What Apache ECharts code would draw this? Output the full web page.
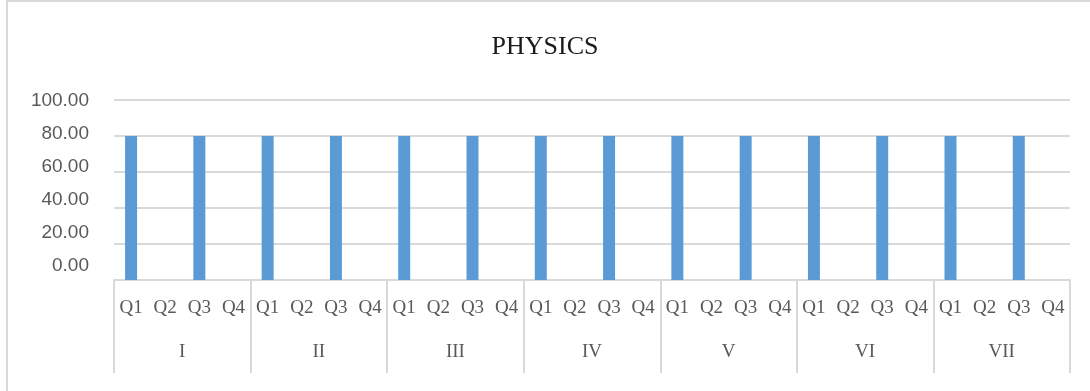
<!DOCTYPE html>
<html>
<head>
<meta charset="utf-8">
<script src="https://cdn.jsdelivr.net/npm/echarts@6/dist/echarts.min.js"></script>
<style>
  html, body { margin: 0; padding: 0; background: #fff; }
  #wrap { position: relative; width: 1090px; height: 391px; overflow: hidden; }
  #frame { position: absolute; left: 6px; top: 0; width: 1200px; height: 500px;
           border-left: 2px solid #d9d9d9; border-top: 2px solid #d9d9d9; box-sizing: border-box; }
  #chart { position: absolute; left: 0; top: 0; width: 1090px; height: 391px; }
</style>
</head>
<body>
<div id="wrap">
  <div id="frame"></div>
  <div id="chart"></div>
</div>
<script>
  // data
  var groups = ['I', 'II', 'III', 'IV', 'V', 'VI', 'VII'];
  var quarters = ['Q1', 'Q2', 'Q3', 'Q4'];
  var scores = [
    80, 0, 80, 0,
    80, 0, 80, 0,
    80, 0, 80, 0,
    80, 0, 80, 0,
    80, 0, 80, 0,
    80, 0, 80, 0,
    80, 0, 80, 0
  ];
  var yTicks = [0, 20, 40, 60, 80, 100];

  var quarterCats = [];
  groups.forEach(function (g) {
    quarters.forEach(function (q) { quarterCats.push(q); });
  });

  var grey = '#d9d9d9';
  var txt = '#595959';

  var chart = echarts.init(document.getElementById('chart'));
  chart.setOption({
    animation: false,
    title: {
      text: 'PHYSICS',
      left: 'center',
      top: 29,
      textStyle: { fontFamily: 'Liberation Serif', fontSize: 26, fontWeight: 'normal', color: '#1a1a1a' }
    },
    grid: [
      { left: 114, right: 20, top: 100, bottom: 111 },
      // the tick labels in the picture sit a bit tighter than the grid lines
      { left: 114, right: 20, top: 101, bottom: 125 }
    ],
    xAxis: [{
      type: 'category',
      gridIndex: 0,
      data: quarterCats,
      axisLine: { lineStyle: { color: grey, width: 2 } },
      axisTick: { show: false },
      axisLabel: {
        interval: 0, margin: 19,
        fontFamily: 'Liberation Serif', fontSize: 19, color: txt
      }
    }, {
      type: 'category',
      gridIndex: 0,
      data: groups,
      position: 'bottom',
      axisLine: { show: false },
      axisTick: { show: true, length: 93, lineStyle: { color: grey, width: 2 } },
      axisLabel: {
        interval: 0, margin: 63,
        fontFamily: 'Liberation Serif', fontSize: 19, color: txt
      }
    }, {
      type: 'category',
      gridIndex: 1,
      data: groups,
      show: false
    }],
    yAxis: [{
      type: 'value',
      gridIndex: 0,
      min: yTicks[0],
      max: yTicks[yTicks.length - 1],
      interval: 20,
      axisLine: { show: false },
      axisTick: { show: false },
      axisLabel: { show: false },
      splitLine: { lineStyle: { color: grey, width: 2 } }
    }, {
      type: 'value',
      gridIndex: 1,
      min: yTicks[0],
      max: yTicks[yTicks.length - 1],
      interval: 20,
      axisLine: { show: false },
      axisTick: { show: false },
      splitLine: { show: false },
      axisLabel: {
        margin: 25,
        fontFamily: 'Liberation Sans', fontSize: 19, color: txt,
        formatter: function (v) { return v.toFixed(2); }
      }
    }],
    series: [{
      type: 'bar',
      xAxisIndex: 0,
      yAxisIndex: 0,
      data: scores,
      barWidth: 12,
      itemStyle: { color: '#5b9bd5' }
    }]
  });
</script>
</body>
</html>
